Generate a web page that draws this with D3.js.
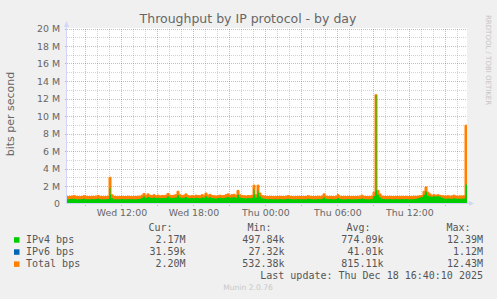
<!DOCTYPE html>
<html>
<head>
<meta charset="utf-8">
<title>Throughput by IP protocol - by day</title>
<script src="https://d3js.org/d3.v7.min.js"></script>
<style>
  body { margin: 0; background: #f0f0f0; }
  svg { display: block; font-family: "DejaVu Sans"; }
  .mono { font-family: "DejaVu Sans Mono"; }
</style>
</head>
<body>
<script>
// --- data (Mbit/s, one value per 10 minutes, starting Wed 17 Dec 07:28) ---
var startTime = new Date(2025, 11, 17, 7, 28);
var endTime = new Date(2025, 11, 18, 16, 48);
var stepMinutes = 10;

var totalBps = [
  0.80,0.82,0.85,0.90,0.82,0.80,0.78,0.82,0.88,0.82,0.80,0.79,0.82,0.80,0.84,0.92,0.82,0.80,0.78,0.81,
  0.83,3.00,1.00,0.82,0.80,0.78,0.80,0.82,0.79,0.80,0.83,0.80,0.78,0.81,0.80,0.84,0.82,0.95,1.15,0.90,
  1.10,0.95,0.90,1.00,0.88,0.95,0.85,0.92,0.90,0.95,1.15,0.95,0.90,0.95,1.00,1.40,1.00,0.90,0.95,1.10,
  0.90,0.85,0.90,0.85,0.95,0.90,0.88,1.00,0.95,1.20,0.95,1.05,0.90,0.88,0.85,0.90,0.95,0.88,0.90,1.00,
  1.10,0.95,1.00,1.05,0.95,1.50,1.00,0.90,0.88,0.85,0.90,0.88,0.95,2.10,1.00,2.10,1.20,0.90,0.85,0.82,
  0.80,0.82,0.80,0.78,0.81,0.80,0.83,0.80,0.79,0.82,0.90,0.82,0.80,0.78,0.80,0.82,0.80,0.79,0.81,0.80,
  0.88,0.82,0.80,0.79,0.81,0.83,0.80,0.85,1.10,0.85,0.80,0.82,0.80,0.79,0.83,1.00,0.84,0.80,0.81,0.80,
  0.82,0.80,0.79,0.81,0.80,0.82,0.84,0.95,0.82,0.80,0.79,0.81,0.85,1.30,12.43,1.50,1.10,0.85,0.82,0.80,
  0.81,0.83,0.80,0.79,0.82,0.80,0.81,0.83,0.80,0.82,0.79,0.81,0.80,0.84,0.82,0.85,0.88,0.92,1.40,1.90,
  1.30,1.10,0.95,1.00,0.95,1.00,0.92,0.88,0.86,0.85,0.88,0.84,0.86,0.95,0.85,0.84,0.86,0.85,0.88,8.95
];
var ipv4Bps = [
  0.50,0.52,0.55,0.55,0.50,0.49,0.48,0.51,0.54,0.50,0.49,0.48,0.51,0.50,0.52,0.56,0.50,0.49,0.48,0.50,
  0.52,1.80,0.60,0.50,0.49,0.48,0.50,0.51,0.49,0.50,0.52,0.50,0.48,0.50,0.49,0.52,0.55,0.65,0.80,0.62,
  0.75,0.66,0.62,0.70,0.62,0.66,0.60,0.64,0.62,0.66,0.80,0.66,0.62,0.66,0.70,0.95,0.70,0.62,0.66,0.75,
  0.62,0.60,0.63,0.60,0.66,0.62,0.60,0.70,0.66,0.82,0.66,0.72,0.62,0.60,0.58,0.62,0.66,0.60,0.62,0.70,
  0.75,0.66,0.70,0.72,0.66,1.00,0.70,0.62,0.60,0.58,0.62,0.60,0.66,1.60,0.70,1.50,0.80,0.60,0.55,0.52,
  0.50,0.51,0.50,0.48,0.50,0.49,0.52,0.50,0.49,0.51,0.55,0.51,0.50,0.48,0.50,0.51,0.50,0.49,0.50,0.50,
  0.54,0.51,0.50,0.49,0.50,0.52,0.50,0.53,0.70,0.53,0.50,0.51,0.50,0.49,0.52,0.62,0.52,0.50,0.50,0.50,
  0.51,0.50,0.49,0.50,0.50,0.51,0.52,0.58,0.51,0.50,0.49,0.50,0.53,0.85,12.39,1.00,0.70,0.53,0.51,0.50,
  0.50,0.52,0.50,0.49,0.51,0.50,0.50,0.52,0.50,0.51,0.49,0.50,0.50,0.52,0.55,0.60,0.70,0.75,1.00,1.40,
  0.90,0.80,0.78,0.82,0.80,0.84,0.78,0.65,0.56,0.54,0.56,0.53,0.54,0.60,0.54,0.53,0.54,0.53,0.56,2.17
];
var ipv6Bps = [
  0.04,0.04,0.04,0.05,0.04,0.04,0.03,0.04,0.04,0.04,0.04,0.03,0.04,0.04,0.04,0.05,0.04,0.04,0.03,0.04,
  0.04,0.06,0.04,0.04,0.04,0.03,0.04,0.04,0.04,0.04,0.04,0.04,0.03,0.04,0.04,0.04,0.04,0.04,0.05,0.04,
  0.05,0.04,0.04,0.04,0.04,0.04,0.04,0.04,0.04,0.04,0.05,0.04,0.04,0.04,0.04,0.05,0.04,0.04,0.04,0.05,
  0.04,0.04,0.04,0.04,0.04,0.04,0.04,0.04,0.04,0.05,0.04,0.04,0.04,0.04,0.04,0.04,0.04,0.04,0.04,0.04,
  0.05,0.04,0.04,0.04,0.04,0.05,0.04,0.04,0.04,0.04,0.04,0.04,0.04,0.06,0.04,0.06,0.05,0.04,0.04,0.04,
  0.04,0.04,0.04,0.03,0.04,0.04,0.04,0.04,0.03,0.04,0.04,0.04,0.04,0.03,0.04,0.04,0.04,0.03,0.04,0.04,
  0.04,0.04,0.04,0.03,0.04,0.04,0.04,0.04,0.05,0.04,0.04,0.04,0.04,0.03,0.04,0.04,0.04,0.04,0.04,0.04,
  0.04,0.04,0.03,0.04,0.04,0.04,0.04,0.04,0.04,0.04,0.03,0.04,0.04,0.05,1.12,0.06,0.04,0.04,0.04,0.04,
  0.04,0.04,0.04,0.03,0.04,0.04,0.04,0.04,0.04,0.04,0.03,0.04,0.04,0.04,0.04,0.04,0.04,0.04,0.05,0.06,
  0.05,0.04,0.04,0.04,0.04,0.04,0.04,0.04,0.04,0.04,0.04,0.04,0.04,0.04,0.04,0.04,0.04,0.04,0.04,0.03
];

var yTicks = [0, 2, 4, 6, 8, 10, 12, 14, 16, 18, 20];
var yTickLabels = ["0", "2 M", "4 M", "6 M", "8 M", "10 M", "12 M", "14 M", "16 M", "18 M", "20 M"];

var seriesNames = ["IPv4 bps", "IPv6 bps", "Total bps"];
var curVals = ["2.17M", "31.59k", "2.20M"];
var minVals = ["497.84k", "27.32k", "532.38k"];
var avgVals = ["774.09k", "41.01k", "815.11k"];
var maxVals = ["12.39M", "1.12M", "12.43M"];
var statHeaders = ["Cur:", "Min:", "Avg:", "Max:"];

var seriesColors = ["#00cc00", "#0066b3", "#ff8000"];

// --- layout ---
var W = 497, H = 299;
var plotL = 67, plotR = 467, plotT = 28.5, plotB = 203.5;
var fontColor = "#666666";
var axisColor = "#cfd6f8";

var svg = d3.select("body").append("svg")
    .attr("width", W)
    .attr("height", H);

svg.append("rect").attr("width", W).attr("height", H).attr("fill", "#f0f0f0");
svg.append("rect")
    .attr("x", plotL).attr("y", plotT - 0.5)
    .attr("width", plotR - plotL).attr("height", plotB - plotT + 0.5)
    .attr("fill", "#ffffff");

var x = d3.scaleTime().domain([startTime, endTime]).range([plotL, plotR]);
var y = d3.scaleLinear().domain([0, 20]).range([plotB, plotT]);

// grid
var grid = svg.append("g").attr("shape-rendering", "crispEdges");
var minorY = d3.range(1, 20, 2);
grid.selectAll(".hmin").data(minorY).enter().append("line")
    .attr("x1", plotL).attr("x2", plotR)
    .attr("y1", function (d) { return Math.round(y(d)) + 0.5; })
    .attr("y2", function (d) { return Math.round(y(d)) + 0.5; })
    .attr("stroke", "rgba(128,128,128,0.35)")
    .attr("stroke-dasharray", "1,1");

var hours = d3.timeHour.range(startTime, endTime);
grid.selectAll(".vmin").data(hours.filter(function (d) { return d.getHours() % 3 !== 0; }))
    .enter().append("line")
    .attr("x1", function (d) { return Math.round(x(d)) + 0.5; })
    .attr("x2", function (d) { return Math.round(x(d)) + 0.5; })
    .attr("y1", plotT).attr("y2", plotB)
    .attr("stroke", "rgba(128,128,128,0.35)")
    .attr("stroke-dasharray", "1,1");

grid.selectAll(".hmaj").data(yTicks.slice(1)).enter().append("line")
    .attr("x1", plotL - 2).attr("x2", plotR)
    .attr("y1", function (d) { return Math.round(y(d)) + 0.5; })
    .attr("y2", function (d) { return Math.round(y(d)) + 0.5; })
    .attr("stroke", "rgba(255,0,0,0.35)")
    .attr("stroke-dasharray", "1,1");

grid.selectAll(".vmaj").data(hours.filter(function (d) { return d.getHours() % 3 === 0; }))
    .enter().append("line")
    .attr("x1", function (d) { return Math.round(x(d)) + 0.5; })
    .attr("x2", function (d) { return Math.round(x(d)) + 0.5; })
    .attr("y1", plotT).attr("y2", plotB + 2)
    .attr("stroke", "rgba(255,0,0,0.35)")
    .attr("stroke-dasharray", "1,1");

// series
function rows(values) {
    var pts = values.map(function (v, i) {
        return { t: new Date(+startTime + i * stepMinutes * 60000), v: v };
    });
    pts.push({ t: endTime, v: values[values.length - 1] });
    return pts;
}
var area = d3.area()
    .curve(d3.curveStepAfter)
    .x(function (d) { return x(d.t); })
    .y0(y(0))
    .y1(function (d) { return y(d.v); });
var line = d3.line()
    .curve(d3.curveStepAfter)
    .x(function (d) { return x(d.t); })
    .y(function (d) { return y(d.v); });

svg.append("path").datum(rows(totalBps)).attr("d", area).attr("fill", seriesColors[2]);
svg.append("path").datum(rows(ipv6Bps)).attr("d", area).attr("fill", seriesColors[1]);
svg.append("path").datum(rows(ipv4Bps)).attr("d", area).attr("fill", seriesColors[0]);
svg.append("path").datum(rows(totalBps)).attr("d", line)
    .attr("fill", "none")
    .attr("stroke", seriesColors[2])
    .attr("stroke-width", 1);

// axes lines + arrows
svg.append("line")
    .attr("x1", plotL - 0.5).attr("x2", plotL - 0.5)
    .attr("y1", plotB + 0.5).attr("y2", 23)
    .attr("stroke", axisColor);
svg.append("path")
    .attr("d", "M" + (plotL - 3) + ",27 L" + (plotL - 0.5) + ",21 L" + (plotL + 2) + ",27 Z")
    .attr("fill", axisColor);
svg.append("line")
    .attr("x1", plotL - 1).attr("x2", plotR + 4)
    .attr("y1", plotB).attr("y2", plotB)
    .attr("stroke", axisColor);
svg.append("path")
    .attr("d", "M" + (plotR + 2) + "," + (plotB - 2.5) + " L" + (plotR + 7) + "," + plotB + " L" + (plotR + 2) + "," + (plotB + 2.5) + " Z")
    .attr("fill", axisColor);

// y axis labels
var yAxis = d3.axisLeft(y)
    .tickValues(yTicks)
    .tickSize(0)
    .tickPadding(7)
    .tickFormat(function (d, i) { return yTickLabels[i]; });
var gy = svg.append("g").attr("transform", "translate(" + plotL + ",0)").call(yAxis);
gy.select(".domain").remove();
gy.selectAll("text").attr("font-family", "DejaVu Sans").attr("font-size", "9.4px").attr("fill", fontColor);

// x axis labels
var xAxis = d3.axisBottom(x)
    .ticks(d3.timeHour.every(6))
    .tickSize(0)
    .tickPadding(6)
    .tickFormat(d3.timeFormat("%a %H:%M"));
var gx = svg.append("g").attr("transform", "translate(0," + plotB + ")").call(xAxis);
gx.select(".domain").remove();
gx.selectAll("text").attr("font-family", "DejaVu Sans").attr("font-size", "9.4px").attr("fill", fontColor);

// title, axis title, watermarks
svg.append("text")
    .attr("x", 248).attr("y", 22.5)
    .attr("text-anchor", "middle")
    .attr("font-size", "12.5px")
    .attr("fill", fontColor)
    .text("Throughput by IP protocol - by day");

svg.append("text")
    .attr("transform", "translate(14,114) rotate(-90)")
    .attr("text-anchor", "middle")
    .attr("font-size", "11px")
    .attr("fill", fontColor)
    .text("bits per second");

svg.append("text")
    .attr("transform", "translate(485.5,15) rotate(90)")
    .attr("font-size", "7px")
    .attr("fill", "#c4c4c4")
    .text("RRDTOOL / TOBI OETIKER");

svg.append("text")
    .attr("x", 248).attr("y", 290)
    .attr("text-anchor", "middle")
    .attr("font-size", "7.6px")
    .attr("fill", "#c8c8c8")
    .text("Munin 2.0.76");

// legend
var legend = svg.append("g").attr("class", "mono").attr("font-size", "10px").attr("fill", "#555555");
var headerEnds = [172.5, 271.5, 370.5, 470.5];
var valueEnds = [185.5, 284.5, 383.5, 483];
statHeaders.forEach(function (h, j) {
    legend.append("text").attr("x", headerEnds[j]).attr("y", 230.7)
        .attr("text-anchor", "end").text(h);
});
var stats = [curVals, minVals, avgVals, maxVals];
seriesNames.forEach(function (name, i) {
    var ly = 242.7 + i * 12.1;
    legend.append("rect")
        .attr("x", 14).attr("y", ly - 5.5)
        .attr("width", 5.5).attr("height", 5.5)
        .attr("fill", seriesColors[i]);
    legend.append("text").attr("x", 26).attr("y", ly).text(name);
    stats.forEach(function (col, j) {
        legend.append("text").attr("x", valueEnds[j]).attr("y", ly)
            .attr("text-anchor", "end").text(col[i]);
    });
});
legend.append("text").attr("x", 483).attr("y", 279)
    .attr("text-anchor", "end")
    .text("Last update: Thu Dec 18 16:40:10 2025");
</script>
</body>
</html>
